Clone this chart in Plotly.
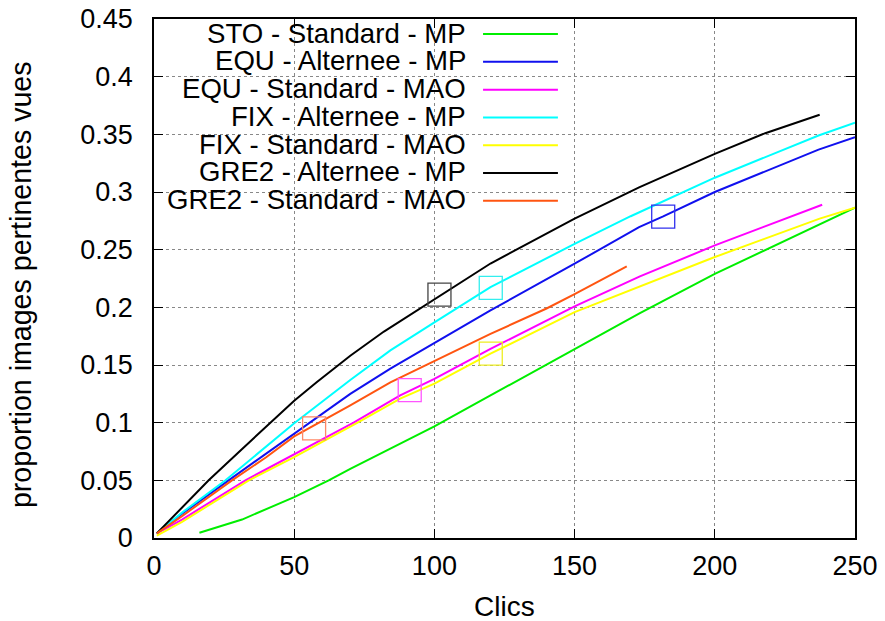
import plotly.graph_objects as go

# ---------------- data ----------------
names = ["STO - Standard - MP", "EQU - Alternee - MP", "EQU - Standard - MAO",
         "FIX - Alternee - MP", "FIX - Standard - MAO", "GRE2 - Alternee - MP",
         "GRE2 - Standard - MAO"]
colors = ["#00ee00", "#1010ee", "#ff00ff", "#00ffff", "#ffff00", "#000000", "#ff5511"]
square_colors = ["#00ee00", "#3030ee", "#ff55ff", "#33eeee", "#eeee22", "#444444", "#ff8866"]

sto_std_mp_x = [16.2, 31.4, 50, 62.3, 70, 87.8, 100, 120, 150, 173.3, 200, 250]
sto_std_mp_y = [0.0046, 0.016, 0.0355, 0.05, 0.06, 0.0818, 0.0968, 0.1236, 0.164, 0.195, 0.229, 0.2864]

equ_alt_mp_x = [1, 10, 26.6, 40, 50, 55.8, 70, 84.3, 100, 120, 150, 173, 181.6, 200, 237, 250]
equ_alt_mp_y = [0.004, 0.021, 0.05, 0.073, 0.0904, 0.1, 0.125, 0.1468, 0.169, 0.1973, 0.2378, 0.2696, 0.2788, 0.300, 0.3367, 0.3476]

equ_std_mao_x = [1, 10, 32.6, 50, 71.2, 87.8, 100, 120, 150, 173.3, 200, 238.3]
equ_std_mao_y = [0.004, 0.016, 0.05, 0.0725, 0.1, 0.1236, 0.138, 0.164, 0.2008, 0.2268, 0.2537, 0.289]

fix_alt_mp_x = [1, 10, 25.5, 35, 50, 70, 84.3, 100, 120, 150, 170, 200, 237, 250]
fix_alt_mp_y = [0.004, 0.022, 0.05, 0.069, 0.0995, 0.137, 0.1627, 0.187, 0.2176, 0.255, 0.279, 0.3124, 0.349, 0.360]

fix_std_mao_x = [1, 10, 33.8, 50, 72.6, 87.8, 100, 120, 150, 173.3, 200, 237.4, 250]
fix_std_mao_y = [0.002, 0.014, 0.05, 0.0702, 0.1, 0.1208, 0.1338, 0.1598, 0.1959, 0.218, 0.2436, 0.2769, 0.2864]

gre2_alt_mp_x = [1, 10, 19.5, 30, 41.4, 50, 58, 70, 82, 100, 120, 150, 173, 200, 218, 237.4]
gre2_alt_mp_y = [0.004, 0.026, 0.05, 0.074, 0.1, 0.119, 0.135, 0.158, 0.179, 0.207, 0.238, 0.277, 0.304, 0.333, 0.351, 0.367]

gre2_std_mao_x = [1, 10, 27.8, 40, 50, 57, 70, 84.3, 100, 120, 140, 150, 168.6]
gre2_std_mao_y = [0.004, 0.019, 0.05, 0.07, 0.0881, 0.0975, 0.115, 0.135, 0.1535, 0.177, 0.199, 0.2115, 0.2355]

series_x = [sto_std_mp_x, equ_alt_mp_x, equ_std_mao_x, fix_alt_mp_x, fix_std_mao_x, gre2_alt_mp_x, gre2_std_mao_x]
series_y = [sto_std_mp_y, equ_alt_mp_y, equ_std_mao_y, fix_alt_mp_y, fix_std_mao_y, gre2_alt_mp_y, gre2_std_mao_y]

# highlighted points (open squares), None where absent
square_x = [None, 181.6, 91.2, 120.1, 120.1, 101.8, 57.1]
square_y = [None, 0.2787, 0.1283, 0.2169, 0.1599, 0.2111, 0.095]

x_ticks = [0, 50, 100, 150, 200, 250]
y_ticks = [0, 0.05, 0.1, 0.15, 0.2, 0.25, 0.3, 0.35, 0.4, 0.45]
y_ticktext = ["0", "0.05", "0.1", "0.15", "0.2", "0.25", "0.3", "0.35", "0.4", "0.45"]

x_title = "Clics"
y_title = "proportion images pertinentes vues"

# ---------------- figure ----------------
FONT = "Liberation Sans, Arial, Helvetica, sans-serif"
fig = go.Figure()

for xs, ys, c, n in zip(series_x, series_y, colors, names):
    fig.add_trace(go.Scatter(x=xs, y=ys, mode="lines", name=n,
                             line=dict(color=c, width=2), showlegend=False))

for sx, sy, c in zip(square_x, square_y, square_colors):
    if sx is None:
        continue
    fig.add_trace(go.Scatter(x=[sx], y=[sy], mode="markers", showlegend=False,
                             marker=dict(symbol="square-open", size=23,
                                         color=c, line=dict(color=c, width=1.3))))

# key (gnuplot style: text right-aligned, sample line on the right)
key_text_x = 0.4466
key_line_x0, key_line_x1 = 0.4694, 0.5762
key_row_y0 = 0.9729
key_row_dy = 0.0535
fig.add_shape(type="rect", xref="paper", yref="paper", x0=0, x1=0.593, y0=0.6254, y1=1,
              fillcolor="white", line=dict(width=0), layer="between")
for i, (n, c) in enumerate(zip(names, colors)):
    yy = key_row_y0 - i * key_row_dy
    fig.add_annotation(x=key_text_x, y=yy, xref="paper", yref="paper", text=n,
                       showarrow=False, xanchor="right", yanchor="middle", borderpad=0,
                       font=dict(family=FONT, size=27.6, color="black"))
    fig.add_shape(type="line", xref="paper", yref="paper", x0=key_line_x0, x1=key_line_x1,
                  y0=yy - 0.002, y1=yy - 0.002, line=dict(color=c, width=2))

fig.add_annotation(x=0.5, y=-0.1318, xref="paper", yref="paper", text=x_title,
                   showarrow=False, xanchor="center", yanchor="middle",
                   font=dict(family=FONT, size=28, color="black"))
fig.add_annotation(x=-0.1888, y=0.4886, xref="paper", yref="paper", text=y_title,
                   showarrow=False, xanchor="center", yanchor="middle", textangle=-90,
                   font=dict(family=FONT, size=28.6, color="black"))

axis_common = dict(showline=True, linecolor="black", linewidth=1.5, mirror="ticks",
                   ticks="inside", ticklen=9, tickcolor="black", tickwidth=1.2,
                   showgrid=True, gridcolor="#888888", griddash="dot", gridwidth=1,
                   zeroline=False, automargin=False,
                   tickfont=dict(family=FONT, size=27, color="black"))

fig.update_xaxes(range=[0, 250], tickvals=x_ticks, ticktext=[str(v) for v in x_ticks],
                 ticklabelstandoff=3, **axis_common)
fig.update_yaxes(range=[0, 0.45], tickvals=y_ticks, ticktext=y_ticktext,
                 ticklabelstandoff=14, **axis_common)

fig.update_layout(width=885, height=621, autosize=False,
                  margin=dict(l=153.5, r=29.5, t=18.6, b=83.4, pad=0),
                  plot_bgcolor="white", paper_bgcolor="white",
                  font=dict(family=FONT, size=27, color="black"))

# remove the default 8px body margin so the figure fills the window exactly
fig.write_html("out.html", config={"displayModeBar": False},
               post_script="document.body.style.margin='0px';")
